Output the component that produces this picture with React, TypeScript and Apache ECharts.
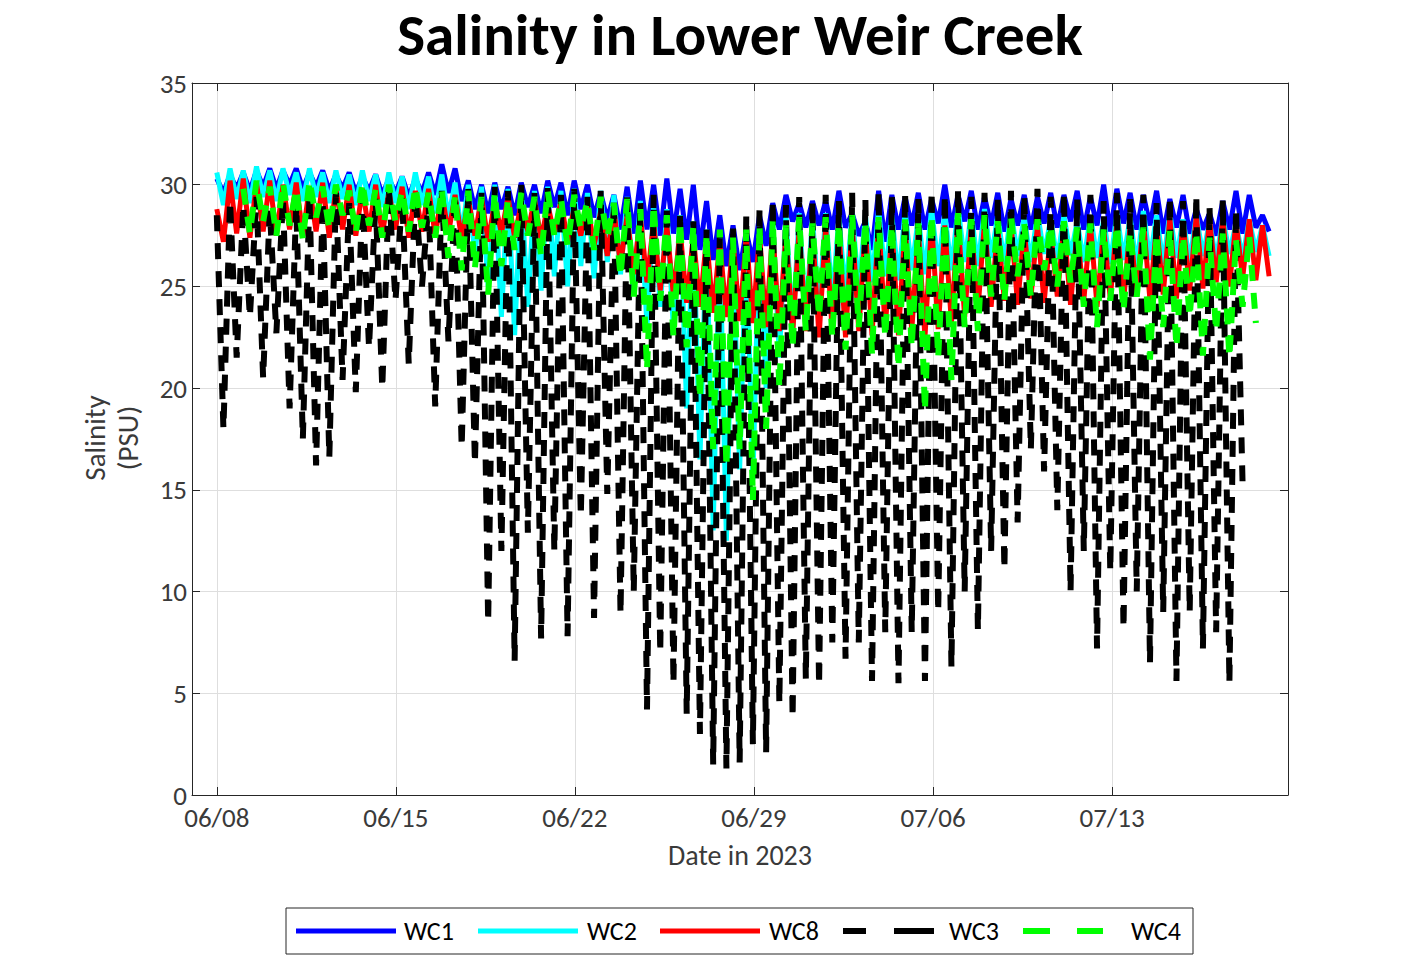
import React, { useEffect, useRef } from 'react';
import * as echarts from 'echarts';

// ---------- data ----------
const TITLE = 'Salinity in Lower Weir Creek';
const X_NAME = 'Date in 2023';
const Y_NAME = 'Salinity\n(PSU)';
// days after 06/08/2023 00:00
const TICK_DAYS = [0, 7, 14, 21, 28, 35];
const TICK_LABELS = ['06/08', '06/15', '06/22', '06/29', '07/06', '07/13'];
const X_MIN = -0.97;
const X_MAX = 41.88;
const CYCLE_HOURS = 12.42; // one tidal cycle: a high, then a low half a cycle later

const SERIES_NAMES = ['WC1', 'WC2', 'WC8', 'WC3', 'WC4'];

// tidal highs and lows per cycle (PSU)
const WC1_HIGH = [30.3, 30.5, 30.6, 30.7, 30.8, 30.7, 30.8, 30.6, 30.7, 30.5, 30.6, 30.4, 30.5, 30.3, 30.4, 30.3, 30.6, 31,
  30.8, 30.2, 30, 30.1, 29.9, 30.1, 30, 30.2, 30.1, 30.2, 30, 29.6, 29.5, 29.9, 30.2, 30,
  30.3, 29.8, 30, 29.2, 28.5, 28, 27.7, 28.5, 29.1, 29.5, 29.1, 29.2,
  29.2, 29.7, 28.6, 28.2, 29.7, 29.5, 29.4, 29.6, 29.3, 30, 29.5, 29.7, 29.4, 29.6, 29.3, 29.5, 29.4, 29.6, 29.5, 29.7,
  29.4, 30, 29.8, 29.6, 29.5, 29.7, 29.3, 29.5, 28.8, 28.6, 29.2, 29.7, 29.5, 28.5];
const WC1_LOW = [29.6, 29.8, 29.7, 29.9, 29.8, 30, 29.8, 29.9, 29.7, 29.8, 29.6, 29.7, 29.5, 29.6, 29.4, 29.6, 29.5, 29.6,
  29.2, 28.8, 28.6, 28.8, 28.5, 28.9, 28.6, 28.9, 28.5, 28.8, 28.4, 28.3, 27.8, 27.6, 27.8, 27.5,
  27.6, 27.3, 26.8, 26.3, 26, 25.8, 26.2, 27, 27.8, 28.2, 27.9, 28,
  27.8, 27.9, 27.5, 26.8, 27.2, 27.8, 28, 27.8, 28.1, 27.9, 28.2, 27.8, 28, 27.7, 28, 27.8, 28.1, 27.9, 28.2, 27.8,
  28, 27.7, 28.1, 27.8, 28, 27.6, 27.9, 27.6, 27.8, 27.5, 27.8, 27.6, 27.9, 27.7];

const WC2_HIGH = [30.6, 30.8, 30.7, 30.9, 30.7, 30.8, 30.6, 30.8, 30.6, 30.7, 30.5, 30.7, 30.5, 30.6, 30.4, 30.6, 30.4, 30.5,
  30.1, 30, 29.9, 30, 29.8, 29.9, 29.7, 29.9, 29.7, 29.8, 29.6, 29.7, 29.5, 29.4, 29.2, 29,
  28.8, 28.5, 28.2, 27.8, 27.5, 27.2, 27.5, 28, 28.3, 28.5, 28.6, 28.4,
  28.6, 28.4, 28.7, 28.5, 28.8, 28.5, 28.7, 28.4, 28.8, 28.6, 28.9, 28.6, 28.8, 28.5, 28.7, 28.4, 28.6, 28.3, 28.5, 28.2,
  28.5, 28.3, 28.6, 28.4, 28.7, 28.5, 28.6, 28.3, 28.5, 28.2, 28.4, 28.1, 28.3, 28];
const WC2_LOW = [29, 29.3, 29.1, 29.4, 29.2, 29.5, 29.2, 29.4, 29.1, 29.3, 29, 29.2, 28.9, 29.1, 28.8, 29, 28.6, 28.4,
  27.5, 26.5, 25, 23.5, 22.6, 24, 24.8, 25.5, 25, 26, 25.4, 26.2, 25.6, 24.8, 23, 24,
  22.8, 19, 16.5, 13, 12.5, 16, 15.5, 20, 21.5, 22.8, 23.3, 23.8,
  24.3, 24.5, 24.8, 25.2, 25.5, 25.3, 25.8, 25.6, 26, 25.8, 26.2, 26, 26.4, 26.1, 26.5, 26.2, 26.6, 26.3, 26.5, 26.2,
  26.4, 26.1, 26.3, 26, 26.3, 26.1, 26.4, 26.2, 26.5, 26.3, 26.6, 26.4, 26.7, 26.5];

const WC8_HIGH = [28.8, 30.2, 30.3, 30.1, 30.2, 30, 30.1, 29.9, 30.1, 29.8, 30, 29.8, 30, 29.7, 29.9, 29.7, 29.8, 29.6,
  29.5, 29.3, 29.4, 29.2, 29.4, 29.1, 29.3, 29, 29.2, 28.9, 29, 28.7, 28.8, 28.5, 28.5, 28.2,
  28, 27.8, 27.5, 27.4, 27.2, 27.3, 27.5, 27.6, 27.8, 27.7, 27.9, 27.8,
  28, 27.8, 28.1, 27.9, 28.2, 27.9, 28.1, 27.8, 28.2, 28, 28.3, 28, 28.2, 27.9, 28.1, 27.8, 28, 27.7, 28, 27.8,
  28.1, 27.9, 28.2, 28, 28.3, 28.1, 28.4, 28.2, 28.5, 28.3, 28.4, 28.2, 28.3, 28];
const WC8_LOW = [27.2, 27.6, 27.4, 27.7, 27.5, 27.8, 27.5, 27.7, 27.4, 27.8, 27.5, 27.7, 27.5, 27.8, 27.4, 27.7, 27.5, 27.6,
  27.3, 27.5, 27.2, 27.6, 27.4, 27.7, 27.3, 27.6, 27.2, 27.5, 27, 26.5, 26, 25.6, 25.2, 24.8,
  24.5, 24.2, 24, 23.7, 23.5, 23.3, 23.2, 23, 22.8, 22.6, 22.8, 22.5,
  22.7, 22.5, 22.8, 22.6, 22.9, 22.6, 22.8, 22.5, 22.9, 23.2, 23.5, 23.8, 24, 24.3, 24.1, 24.4, 24.2, 24.5, 24.1, 24.3,
  24, 24.4, 24.2, 24.5, 24.3, 24.6, 24.4, 24.8, 24.9, 25.2, 25, 25.4, 25.3, 25.5];

const WC3_HIGH = [28.5, 29.2, 29, 29.4, 28.8, 29.3, 29, 29.5, 29.2, 29.6, 29.1, 29.5, 29.3, 29.8, 29.4, 29.6, 29.2, 29.7,
  29.5, 29.8, 29.6, 29.9, 29.7, 30, 29.6, 29.9, 29.5, 29.8, 29.4, 29.7, 29.3, 29.6, 29.2, 29.5,
  29, 28.6, 28.2, 27.8, 27.5, 28, 28.5, 28.8, 29.2, 29, 29.4, 29.1,
  29.5, 29.2, 29.6, 29.3, 29.7, 29.4, 29.6, 29.3, 29.7, 29.5, 29.8, 29.4, 29.6, 29.3, 29.7, 29.5, 29.8, 29.4, 29.6, 29.3,
  29.5, 29.2, 29.6, 29.3, 29.5, 29.1, 29.4, 29.2, 29.5, 29, 29.3, 28.8, null, null];
const WC3_LOW = [18, 21.5, 23.5, 20.5, 22.7, 19, 17.5, 16.2, 16.6, 20.4, 19.8, 22, 20, 24.3, 21.2, 25, 19.1, 22.3,
  17.1, 16.3, 8.5, 12, 6.6, 12.9, 7.7, 12, 7.8, 13.7, 8.7, 14.8, 8.9, 10, 4.2, 7,
  5.5, 4, 3, 1.5, 1.3, 1.6, 2.5, 2.1, 4.5, 3.8, 5.7, 5.4,
  7.5, 6.7, 7.5, 5.6, 8, 5.5, 8, 5.6, 9, 6.3, 10, 8.1, 12, 11.1, 13.4, 17, 15.9, 14, 10, 12,
  7.2, 11, 8.2, 10, 6.5, 9, 5.6, 9, 7.2, 8, 5.5, 15.2, null, null];

const WC4_HIGH = [null, null, 29.8, 30.2, 29.9, 30.1, 29.8, 30.2, 29.9, 30, 29.7, 30.1, 29.8, 30, 29.7, 29.9, 29.6, 29.8,
  29.5, 29.7, 29.4, 29.6, 29.3, 29.6, 29.4, 29.7, 29.3, 29.5, 29.2, 29.4, 29.1, 29.3, 28.8, 29,
  28.5, 28.2, 28, 27.6, 27.8, 27.4, 27.8, 28, 28.3, 28, 28.4, 28.1,
  28.4, 28.1, 28.5, 28.2, 28.4, 28, 28.3, 28.1, 28.5, 28.2, 28.6, 28.3, 28.5, 28.2, 28.4, 28.1, 28.3, 28, 28.2, 27.9,
  28.1, 27.8, 28, 27.7, 27.9, 27.6, 27.8, 27.5, 27.7, 27.4, 27.6, 27.3, 27.5, null];
const WC4_LOW = [null, null, 27.6, 28.2, 27.5, 28, 27.3, 28.4, 27.8, 28.5, 27.6, 28, 27.4, 28.2, 27.7, 27.9, 27.4, 26.4,
  25.8, 25.9, 24.6, 26, 26.8, 27.5, 26.5, 27.5, 27, 27.8, 26.8, 27.4, 25.5, 24.5, 20.9, 24.3,
  22.5, 22, 19.5, 17, 16.1, 17, 14.5, 18, 20, 22, 22.8, 23.5,
  22.5, 21.9, 23, 21.7, 22.5, 21, 22, 18.9, 21.5, 20.4, 23, 22.8, 24.5, 24.3, 25.5, 24.5, 25.8, 25, 25.2, 24,
  23, 24.3, 23.8, 24.5, 21.4, 23, 22, 23.5, 21.6, 22.8, 21.5, 24, 23.2, null];

// ---------- helpers ----------
const FONT = 'Carlito, Lato, "Open Sans", sans-serif';

function buildPoints(highs: (number | null)[], lows: (number | null)[]) {
  const pts: [number, number][] = [];
  const n = Math.max(highs.length, lows.length);
  for (let i = 0; i < n; i++) {
    const tHigh = (i * CYCLE_HOURS) / 24;
    const tLow = tHigh + CYCLE_HOURS / 48;
    const h = highs[i];
    const l = lows[i];
    if (h !== null && h !== undefined) pts.push([tHigh, h]);
    if (l !== null && l !== undefined) pts.push([tLow, l]);
  }
  return pts;
}

const COLORS = ['#0000ff', '#00ffff', '#ff0000', '#000000', '#00ff00'];
const DATA = [
  buildPoints(WC1_HIGH, WC1_LOW),
  buildPoints(WC2_HIGH, WC2_LOW),
  buildPoints(WC8_HIGH, WC8_LOW),
  buildPoints(WC3_HIGH, WC3_LOW),
  buildPoints(WC4_HIGH, WC4_LOW),
];
const DASHED = [false, false, false, true, true];

function tickLabel(v: number) {
  for (let i = 0; i < TICK_DAYS.length; i++) {
    if (Math.abs(TICK_DAYS[i] - v) < 1e-6) return TICK_LABELS[i];
  }
  return '';
}

function buildOption() {
  const axisColor = '#262626';
  const gridColor = '#dedede';
  const textColor = '#3a3a3a';
  const series = SERIES_NAMES.map((name, k) => ({
    type: 'line',
    name,
    data: DATA[k],
    showSymbol: false,
    symbol: 'none',
    silent: true,
    z: 2 + k,
    lineStyle: {
      color: COLORS[k],
      width: DASHED[k] ? 6 : 5,
      type: DASHED[k] ? [16, 12] : 'solid',
      cap: 'butt',
    },
  }));

  // legend drawn as graphic elements
  const LY = 931;
  const legendItems: any[] = [
    { type: 'rect', shape: { x: 286, y: 908, width: 907, height: 46 }, style: { fill: '#fff', stroke: axisColor, lineWidth: 1 } },
    { type: 'line', shape: { x1: 296, y1: LY, x2: 396, y2: LY }, style: { stroke: COLORS[0], lineWidth: 5 } },
    { type: 'line', shape: { x1: 478, y1: LY, x2: 578, y2: LY }, style: { stroke: COLORS[1], lineWidth: 5 } },
    { type: 'line', shape: { x1: 660, y1: LY, x2: 760, y2: LY }, style: { stroke: COLORS[2], lineWidth: 5 } },
    { type: 'line', shape: { x1: 843, y1: LY, x2: 866, y2: LY }, style: { stroke: COLORS[3], lineWidth: 6 } },
    { type: 'line', shape: { x1: 894, y1: LY, x2: 934, y2: LY }, style: { stroke: COLORS[3], lineWidth: 6 } },
    { type: 'line', shape: { x1: 1023, y1: LY, x2: 1050, y2: LY }, style: { stroke: COLORS[4], lineWidth: 6 } },
    { type: 'line', shape: { x1: 1077, y1: LY, x2: 1103, y2: LY }, style: { stroke: COLORS[4], lineWidth: 6 } },
  ];
  const legendTextX = [404, 587, 769, 949, 1131];
  SERIES_NAMES.forEach((name, k) => {
    legendItems.push({
      type: 'text', x: legendTextX[k], y: LY,
      style: { text: name, fill: '#000', font: `26px ${FONT}`, align: 'left', verticalAlign: 'middle' },
    });
  });

  return {
    animation: false,
    backgroundColor: '#ffffff',
    grid: { left: 192, top: 83, width: 1096, height: 712, containLabel: false },
    xAxis: [
      {
        type: 'value', min: X_MIN, max: X_MAX, position: 'bottom',
        axisLine: { show: true, onZero: false, lineStyle: { color: axisColor, width: 1 } },
        axisTick: { show: true, inside: true, length: 8, customValues: TICK_DAYS, lineStyle: { color: axisColor } },
        axisLabel: { show: true, customValues: TICK_DAYS, formatter: tickLabel, fontSize: 27, fontFamily: FONT, color: textColor, margin: 9 },
        splitLine: { show: true, lineStyle: { color: gridColor, width: 1 } },
        name: X_NAME, nameLocation: 'middle', nameGap: 46,
        nameTextStyle: { fontSize: 28, fontFamily: FONT, color: textColor },
      },
      {
        type: 'value', min: X_MIN, max: X_MAX, position: 'top',
        axisLine: { show: true, onZero: false, lineStyle: { color: axisColor, width: 1 } },
        axisTick: { show: true, inside: true, length: 8, customValues: TICK_DAYS, lineStyle: { color: axisColor } },
        axisLabel: { show: false },
        splitLine: { show: false },
      },
    ],
    yAxis: [
      {
        type: 'value', min: 0, max: 35, interval: 5, position: 'left',
        axisLine: { show: true, onZero: false, lineStyle: { color: axisColor, width: 1 } },
        axisTick: { show: true, inside: true, length: 8, lineStyle: { color: axisColor } },
        axisLabel: { show: true, fontSize: 27, fontFamily: FONT, color: textColor, margin: 5 },
        splitLine: { show: true, lineStyle: { color: gridColor, width: 1 } },
      },
      {
        type: 'value', min: 0, max: 35, interval: 5, position: 'right',
        axisLine: { show: true, onZero: false, lineStyle: { color: axisColor, width: 1 } },
        axisTick: { show: true, inside: true, length: 8, lineStyle: { color: axisColor } },
        axisLabel: { show: false },
        splitLine: { show: false },
      },
    ],
    series,
    graphic: [
      {
        type: 'text', x: 740, y: 35,
        style: { text: TITLE, fill: '#000', font: `bold 59px ${FONT}`, align: 'center', verticalAlign: 'middle' },
      },
      {
        type: 'text', x: 111, y: 438, rotation: Math.PI / 2,
        style: { text: Y_NAME, fill: textColor, font: `29px ${FONT}`, align: 'center', verticalAlign: 'middle', lineHeight: 33 },
      },
      ...legendItems,
    ],
  };
}

export default function App() {
  const ref = useRef<HTMLDivElement>(null);
  useEffect(() => {
    if (!ref.current) return;
    const chart = echarts.init(ref.current, null, { renderer: 'svg' });
    chart.setOption(buildOption() as any);
    return () => chart.dispose();
  }, []);
  return (
    <div
      ref={ref}
      style={{ position: 'absolute', left: 0, top: 0, width: 1406, height: 978, background: '#fff' }}
    />
  );
}
